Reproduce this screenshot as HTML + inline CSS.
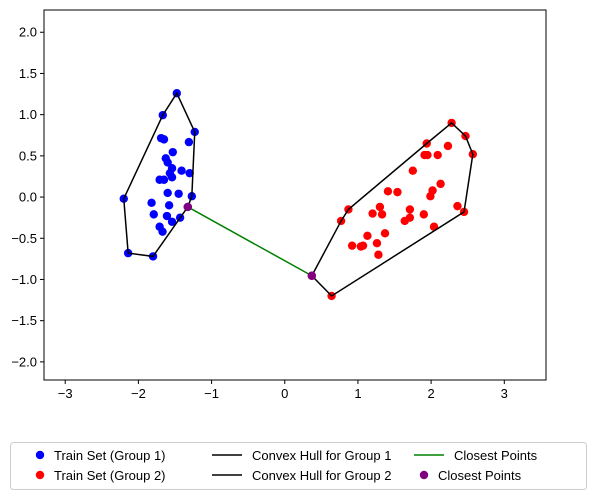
<!DOCTYPE html>
<html><head><meta charset="utf-8"><style>
body{margin:0;background:#fff;font-family:"Liberation Sans",sans-serif;}
svg text{font-family:"Liberation Sans",sans-serif;font-size:13px;fill:#000}
</style></head><body>
<svg id="c" width="595" height="496"></svg>
<script>
const g1x=[-1.475,-1.667,-1.23,-1.69,-1.65,-1.31,-1.53,-1.626,-1.60,-1.54,-1.57,-1.41,-1.30,-1.54,-1.71,-1.65,-1.60,-1.45,-1.27,-2.2,-1.82,-1.58,-1.79,-1.61,-1.43,-1.54,-1.71,-1.67,-2.14,-1.80,-1.325];
const g1y=[1.26,0.994,0.79,0.715,0.70,0.667,0.545,0.47,0.42,0.35,0.29,0.32,0.29,0.24,0.21,0.21,0.05,0.04,0.01,-0.02,-0.07,-0.10,-0.21,-0.23,-0.25,-0.30,-0.36,-0.42,-0.68,-0.72,-0.12];
const g2x=[2.28,2.47,2.57,1.94,2.23,1.91,1.95,2.09,1.75,1.41,1.54,2.13,2.02,1.99,2.36,2.45,0.87,0.77,1.30,1.20,1.33,1.71,1.71,1.64,1.90,2.04,1.37,1.13,0.92,1.04,1.07,1.26,1.28,0.64,0.37];
const g2y=[0.90,0.74,0.52,0.65,0.62,0.51,0.51,0.51,0.32,0.07,0.06,0.16,0.08,0.01,-0.11,-0.18,-0.15,-0.29,-0.12,-0.20,-0.21,-0.15,-0.25,-0.29,-0.21,-0.36,-0.44,-0.47,-0.59,-0.60,-0.59,-0.56,-0.70,-1.20,-0.955];
const closeX=[-1.325,0.37];
const closeY=[-0.12,-0.955];
const xTicks=[-3,-2,-1,0,1,2,3];
const yTicks=[-2.0,-1.5,-1.0,-0.5,0.0,0.5,1.0,1.5,2.0];

const L=44,R=546,T=10,B=380,xmin=-3.29,xmax=3.57,ymin=-2.22,ymax=2.27;
const X=v=>L+(v-xmin)/(xmax-xmin)*(R-L);
const Y=v=>B-(v-ymin)/(ymax-ymin)*(B-T);
const svg=document.getElementById('c');const NS='http://www.w3.org/2000/svg';
function mk(t,a,p){const e=document.createElementNS(NS,t);for(const k in a)e.setAttribute(k,a[k]);(p||svg).appendChild(e);return e;}
function hull(xs,ys){const p=xs.map((x,i)=>[x,ys[i]]).sort((a,b)=>a[0]-b[0]||a[1]-b[1]);const cr=(o,a,b)=>(a[0]-o[0])*(b[1]-o[1])-(a[1]-o[1])*(b[0]-o[0]);
const lo=[],up=[];for(const q of p){while(lo.length>=2&&cr(lo[lo.length-2],lo[lo.length-1],q)<=0)lo.pop();lo.push(q);}
for(const q of p.slice().reverse()){while(up.length>=2&&cr(up[up.length-2],up[up.length-1],q)<=0)up.pop();up.push(q);}
lo.pop();up.pop();return lo.concat(up);}
mk('rect',{x:L,y:T,width:R-L,height:B-T,fill:'#fff',stroke:'none'});
xTicks.forEach(v=>{const x=X(v);mk('line',{x1:x,x2:x,y1:B,y2:B+4,stroke:'#000'});const t=mk('text',{x:x,y:B+18,'text-anchor':'middle'});t.textContent=v<0?'\u2212'+(-v):v;
});
yTicks.forEach(v=>{const y=Y(v);mk('line',{x1:L-4,x2:L,y1:y,y2:y,stroke:'#000'});const t=mk('text',{x:L-7,y:y+4.5,'text-anchor':'end'});t.textContent=(v<0?'\u2212':'')+Math.abs(v).toFixed(1);
});
g1x.forEach((v,i)=>{const c=mk('circle',{cx:X(v),cy:Y(g1y[i]),r:4.2,fill:'#0000ff'});});
g2x.forEach((v,i)=>{const c=mk('circle',{cx:X(v),cy:Y(g2y[i]),r:4.2,fill:'#ff0000'});});
[[g1x,g1y,'hull-group1'],[g2x,g2y,'hull-group2']].forEach(([a,b,n])=>{const h=hull(a,b);h.push(h[0]);const p=mk('polyline',{points:h.map(q=>X(q[0])+','+Y(q[1])).join(' '),fill:'none',stroke:'#000','stroke-width':1.5});
});
const cl=mk('line',{x1:X(closeX[0]),y1:Y(closeY[0]),x2:X(closeX[1]),y2:Y(closeY[1]),stroke:'#008000','stroke-width':1.5});

closeX.forEach((v,i)=>{const c=mk('circle',{cx:X(v),cy:Y(closeY[i]),r:4.2,fill:'#800080'});});
mk('rect',{x:L,y:T,width:R-L,height:B-T,fill:'none',stroke:'#000','stroke-width':1});
// legend
const lg=mk('g',{});
mk('rect',{x:10.5,y:442.5,width:576,height:47,rx:3,fill:'#fff',stroke:'#ccc'},lg);
const ent=[['dot','#0000ff','Train Set (Group 1)',30,456],['dot','#ff0000','Train Set (Group 2)',30,476],['line','#000','Convex Hull for Group 1',212,456],['line','#000','Convex Hull for Group 2',212,476],['line','#008000','Closest Points',414,456],['dot','#800080','Closest Points',414,476]];
ent.forEach(([k,c,txt,x,y])=>{const e=mk('g',{},lg);
if(k=='dot')mk('circle',{cx:x+10,cy:y-1,r:4.2,fill:c},e);else mk('line',{x1:x,x2:x+30,y1:y-1,y2:y-1,stroke:c,'stroke-width':1.5},e);
const t=mk('text',{x:k=='dot'?x+24:x+40,y:y+4},e);t.textContent=txt;});
</script>
</body></html>
